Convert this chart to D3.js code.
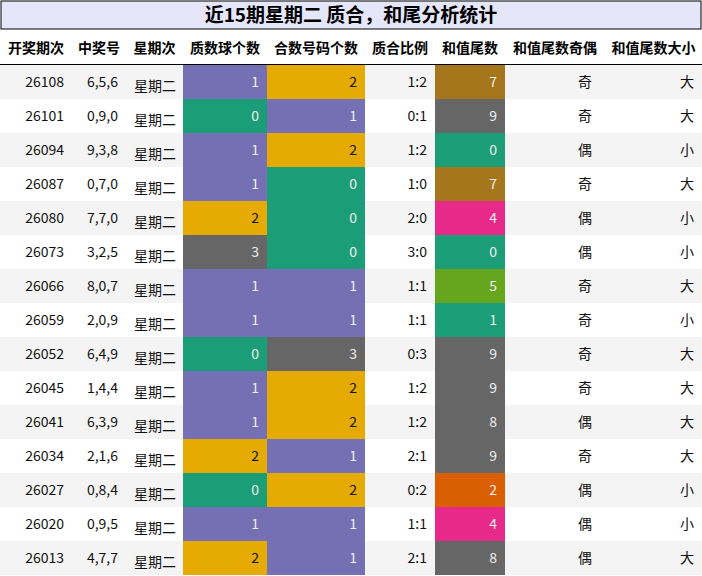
<!DOCTYPE html>
<html><head><meta charset="utf-8">
<script src="https://cdn.jsdelivr.net/npm/d3@7"></script>
<style>body{margin:0;background:#fff}text{font-family:"Noto Sans CJK SC","Noto Sans",sans-serif}</style>
</head><body><svg id="c" width="702" height="576"></svg>
<script>
var title = '近15期星期二 质合，和尾分析统计';
var headers = ['开奖期次','中奖号','星期次','质数球个数','合数号码个数','质合比例','和值尾数','和值尾数奇偶','和值尾数大小'];
var issues = ['26108','26101','26094','26087','26080','26073','26066','26059','26052','26045','26041','26034','26027','26020','26013'];
var numbers = ['6,5,6','0,9,0','9,3,8','0,7,0','7,7,0','3,2,5','8,0,7','2,0,9','6,4,9','1,4,4','6,3,9','2,1,6','0,8,4','0,9,5','4,7,7'];
var primeCounts = [1,0,1,1,2,3,1,1,0,1,1,2,0,1,2];
var compCounts = [2,1,2,0,0,0,1,1,3,2,2,1,2,1,1];
var tails = [7,9,0,7,4,0,5,1,9,9,8,9,2,4,8];
var parity = ['奇','奇','偶','奇','偶','偶','奇','奇','奇','奇','偶','奇','偶','偶','偶'];
var sizes = ['大','大','小','大','小','小','大','小','大','大','大','大','小','小','大'];

var countColor = {0:'#1b9e77',1:'#7570b3',2:'#e6ab02',3:'#666666'};
var tailColor = {0:'#1b9e77',1:'#1b9e77',2:'#d95f02',4:'#e7298a',5:'#66a61e',7:'#a6761d',8:'#666666',9:'#666666'};

var edges = [0,72,126,183,267,365,435,505,605,702];
var titleH = 29, headY = 30, headH = 34, rowY = 65, rowH = 34;
var svg = d3.select('#c');

svg.append('rect').attr('x',1).attr('y',1).attr('width',700).attr('height',titleH-1)
    .attr('fill','#e6e6fa').attr('stroke','#000').attr('stroke-width',1);
svg.append('text').attr('x',351).attr('y',22).attr('text-anchor','middle')
    .style('font-size','19px').style('font-weight','bold').text(title);

headers.forEach(function(h,i) {
    svg.append('text').attr('x',(edges[i]+edges[i+1])/2).attr('y',headY+headH/2+6)
        .attr('text-anchor','middle').style('font-size','14px').style('font-weight','bold').text(h);
});
svg.append('line').attr('x1',0).attr('x2',702).attr('y1',rowY-0.5).attr('y2',rowY-0.5)
    .attr('stroke','#000').attr('stroke-width',1.2);

var rows = issues.map(function(d,i) {
    return [d, numbers[i], '星期二', primeCounts[i], compCounts[i],
        primeCounts[i]+':'+compCounts[i], tails[i], parity[i], sizes[i]];
});

var g = svg.selectAll('.row').data(rows).enter().append('g')
    .attr('transform', function(d,i) { return 'translate(0,' + (rowY + i*rowH) + ')'; });
g.append('rect').attr('width',702).attr('height',rowH)
    .attr('fill', function(d,i) { return i % 2 === 0 ? '#f4f4f4' : '#fff'; });

g.each(function(row) {
    var r = d3.select(this);
    row.forEach(function(v,j) {
        var x0 = edges[j], x1 = edges[j+1], fill = null;
        if (j === 3 || j === 4) fill = countColor[v];
        if (j === 6) fill = tailColor[v];
        if (fill) r.append('rect').attr('x',x0).attr('width',x1-x0).attr('height',rowH).attr('fill',fill);
        var anchor = 'end', x = x1 - 8;
        if (j === 2) { anchor = 'start'; x = x0 + 8; }
        if (j === 7) { anchor = 'middle'; x = (x0+x1)/2 + 30; }
        r.append('text').attr('x',x).attr('y', j === 2 ? rowH/2+9 : rowH/2+5)
            .attr('text-anchor',anchor).style('font-size','14px')
            .attr('fill', fill ? (j===4 && v===2 || j===3 && v===2 ? '#111' : '#eee') : '#111')
            .text(v);
    });
});
</script></body></html>
